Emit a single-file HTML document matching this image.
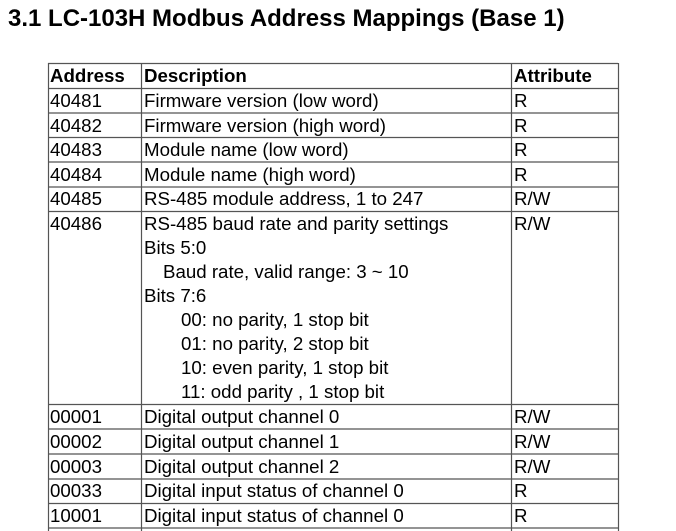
<!DOCTYPE html>
<html><head><style>
body{margin:0;width:676px;height:531px;background:#fff;position:relative;overflow:hidden;font-family:"Liberation Sans",Arial,sans-serif;color:#000}
.t{position:absolute;font-size:18.7px;line-height:24px;white-space:nowrap}
.b{font-weight:bold}
svg{position:absolute;left:0;top:0}
</style></head><body>
<div class="t b" style="left:8px;top:5px;font-size:24px;line-height:28px">3.1 LC-103H Modbus Address Mappings (Base 1)</div>
<svg width="676" height="531">
<g stroke="#555" stroke-width="1.2" fill="none">
<line x1="48" y1="63.5" x2="618" y2="63.5"/>
<line x1="48" y1="88.5" x2="618" y2="88.5"/>
<line x1="48" y1="113" x2="618" y2="113"/>
<line x1="48" y1="137.5" x2="618" y2="137.5"/>
<line x1="48" y1="162" x2="618" y2="162"/>
<line x1="48" y1="187" x2="618" y2="187"/>
<line x1="48" y1="211.5" x2="618" y2="211.5"/>
<line x1="48" y1="404.5" x2="618" y2="404.5"/>
<line x1="48" y1="429" x2="618" y2="429"/>
<line x1="48" y1="454" x2="618" y2="454"/>
<line x1="48" y1="479" x2="618" y2="479"/>
<line x1="48" y1="503.5" x2="618" y2="503.5"/>
<line x1="48" y1="528" x2="618" y2="528"/>
<line x1="48.5" y1="63" x2="48.5" y2="531"/>
<line x1="141.5" y1="63" x2="141.5" y2="531"/>
<line x1="511.5" y1="63" x2="511.5" y2="531"/>
<line x1="618.5" y1="63" x2="618.5" y2="531"/>
</g></svg>
<div class="t b" style="left:50px;top:64px">Address</div>
<div class="t b" style="left:144px;top:64px">Description</div>
<div class="t b" style="left:514px;top:64px">Attribute</div>

<div class="t" style="left:50px;top:89px">40481</div><div class="t" style="left:144px;top:89px">Firmware version (low word)</div><div class="t" style="left:514px;top:89px">R</div>
<div class="t" style="left:50px;top:113.5px">40482</div><div class="t" style="left:144px;top:113.5px">Firmware version (high word)</div><div class="t" style="left:514px;top:113.5px">R</div>
<div class="t" style="left:50px;top:138px">40483</div><div class="t" style="left:144px;top:138px">Module name (low word)</div><div class="t" style="left:514px;top:138px">R</div>
<div class="t" style="left:50px;top:162.5px">40484</div><div class="t" style="left:144px;top:162.5px">Module name (high word)</div><div class="t" style="left:514px;top:162.5px">R</div>
<div class="t" style="left:50px;top:187px">40485</div><div class="t" style="left:144px;top:187px">RS-485 module address, 1 to 247</div><div class="t" style="left:514px;top:187px">R/W</div>
<div class="t" style="left:50px;top:212px">40486</div><div class="t" style="left:144px;top:212px">RS-485 baud rate and parity settings</div><div class="t" style="left:514px;top:212px">R/W</div>
<div class="t" style="left:144px;top:236px">Bits 5:0</div>
<div class="t" style="left:163px;top:260px">Baud rate, valid range: 3 ~ 10</div>
<div class="t" style="left:144px;top:284px">Bits 7:6</div>
<div class="t" style="left:181px;top:308px">00: no parity, 1 stop bit</div>
<div class="t" style="left:181px;top:332px">01: no parity, 2 stop bit</div>
<div class="t" style="left:181px;top:356px">10: even parity, 1 stop bit</div>
<div class="t" style="left:181px;top:380px">11: odd parity , 1 stop bit</div>
<div class="t" style="left:50px;top:405px">00001</div><div class="t" style="left:144px;top:405px">Digital output channel 0</div><div class="t" style="left:514px;top:405px">R/W</div>
<div class="t" style="left:50px;top:429.5px">00002</div><div class="t" style="left:144px;top:429.5px">Digital output channel 1</div><div class="t" style="left:514px;top:429.5px">R/W</div>
<div class="t" style="left:50px;top:454.5px">00003</div><div class="t" style="left:144px;top:454.5px">Digital output channel 2</div><div class="t" style="left:514px;top:454.5px">R/W</div>
<div class="t" style="left:50px;top:479px">00033</div><div class="t" style="left:144px;top:479px">Digital input status of channel 0</div><div class="t" style="left:514px;top:479px">R</div>
<div class="t" style="left:50px;top:504px">10001</div><div class="t" style="left:144px;top:504px">Digital input status of channel 0</div><div class="t" style="left:514px;top:504px">R</div>
</body></html>
